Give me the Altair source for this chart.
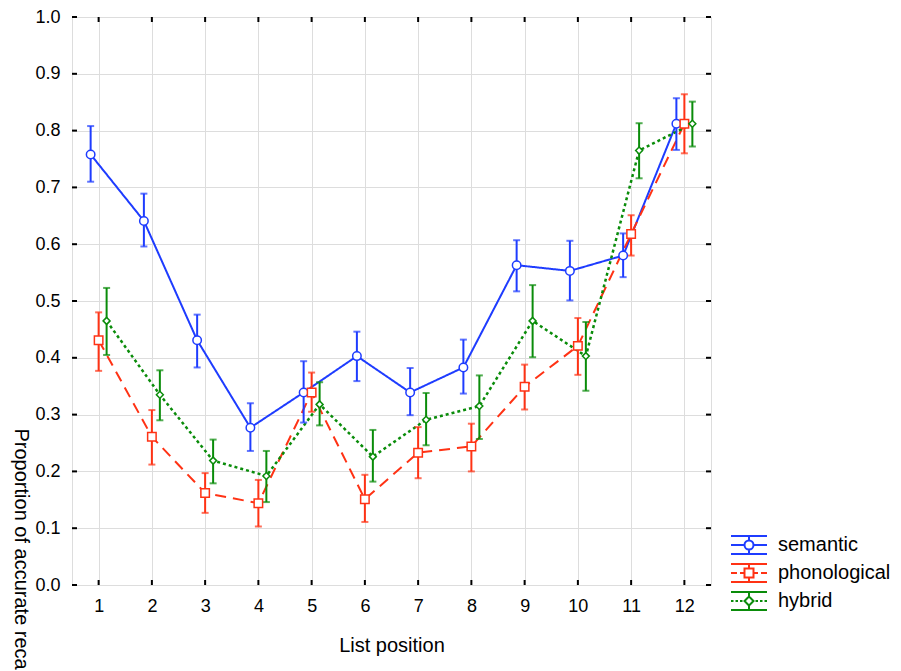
import altair as alt
import pandas as pd

positions = list(range(1, 13))
y_ticks = [0.0, 0.1, 0.2, 0.3, 0.4, 0.5, 0.6, 0.7, 0.8, 0.9, 1.0]
series_names = ["semantic", "phonological", "hybrid"]
series_colors = ["#1e3cff", "#ff3214", "#0a8c0a"]

semantic_mean = [0.758, 0.641, 0.431, 0.277, 0.339, 0.403, 0.339, 0.383, 0.563, 0.553, 0.580, 0.812]
semantic_lo = [0.710, 0.596, 0.383, 0.236, 0.286, 0.359, 0.299, 0.337, 0.517, 0.501, 0.542, 0.766]
semantic_hi = [0.808, 0.689, 0.476, 0.320, 0.394, 0.446, 0.382, 0.432, 0.607, 0.606, 0.619, 0.857]

phon_mean = [0.431, 0.261, 0.162, 0.144, 0.339, 0.151, 0.233, 0.244, 0.349, 0.421, 0.618, 0.812]
phon_lo = [0.377, 0.212, 0.127, 0.103, 0.305, 0.111, 0.188, 0.200, 0.309, 0.370, 0.580, 0.760]
phon_hi = [0.480, 0.308, 0.197, 0.185, 0.374, 0.194, 0.278, 0.284, 0.388, 0.470, 0.651, 0.864]

hyb_mean = [0.465, 0.335, 0.219, 0.192, 0.318, 0.226, 0.291, 0.315, 0.465, 0.403, 0.765, 0.812]
hyb_lo = [0.405, 0.290, 0.179, 0.146, 0.281, 0.182, 0.246, 0.257, 0.401, 0.342, 0.716, 0.772]
hyb_hi = [0.523, 0.378, 0.256, 0.236, 0.357, 0.273, 0.338, 0.369, 0.528, 0.463, 0.813, 0.851]

rows = []
for name, m, lo, hi in zip(series_names,
                           [semantic_mean, phon_mean, hyb_mean],
                           [semantic_lo, phon_lo, hyb_lo],
                           [semantic_hi, phon_hi, hyb_hi]):
    for p, a, b, c in zip(positions, m, lo, hi):
        rows.append({"series": name, "pos": p, "mean": a, "lo": b, "hi": c})
df = pd.DataFrame(rows)

W, H = 639, 568
FONT = "Liberation Sans"

# legend glyphs (error-bar style symbol with marker)
frame = "M-1.8,-0.9H1.8M-1.8,0.9H1.8M0,-0.9V-0.45M0,0.45V0.9"
sym_sem = frame + "M-1.8,0H-0.45M0.45,0H1.8M0.45,0A0.45,0.45 0 1,1 -0.45,0A0.45,0.45 0 1,1 0.45,0Z"
sym_pho = frame + "M-1.8,0H-1.2M-0.9,0H-0.45M0.45,0H0.9M1.2,0H1.8M-0.45,-0.45H0.45V0.45H-0.45Z"
sym_hyb = frame + ("M-1.8,0H-1.55M-1.35,0H-1.1M-0.9,0H-0.65"
                   "M0.65,0H0.9M1.1,0H1.35M1.55,0H1.8M0,-0.45L0.45,0L0,0.45L-0.45,0Z")

color_scale = alt.Scale(domain=series_names, range=series_colors)
line_dashes = [[1, 0], [11, 7], [3, 3]]
line_widths = [2, 2, 2.5]

offset_expr = "datum.pos + (datum.series == 'semantic' ? -0.15 : (datum.series == 'hybrid' ? 0.15 : 0))"

x_enc = alt.X(
    "xpos:Q",
    scale=alt.Scale(domain=[0.5, 12.5], nice=False, zero=False),
    axis=alt.Axis(values=positions, title="List position", grid=True, ticks=False,
                  tickSize=0, domain=False, labelFontSize=18, labelPadding=12,
                  titleFontSize=20, titlePadding=20, titleFontWeight="normal",
                  labelColor="black", titleColor="black", labelFont=FONT, titleFont=FONT),
)
y_enc = alt.Y(
    "mean:Q",
    scale=alt.Scale(domain=[0, 1], nice=False, zero=False),
    axis=alt.Axis(values=y_ticks, format=".1f", title="Proportion of accurate recall",
                  grid=True, ticks=False, tickSize=0, domain=False, labelFontSize=18,
                  labelPadding=12, titleFontSize=20, titleFontWeight="normal",
                  titleAngle=90, titleAlign="left", titleBaseline="alphabetic",
                  titleX=-58, titleY=411, labelColor="black", titleColor="black",
                  labelFont=FONT, titleFont=FONT),
)

base = alt.Chart(df).transform_calculate(xpos=offset_expr)

legend_layer = alt.Chart(df).transform_filter("false").mark_point(
    filled=False, fill="white", strokeWidth=2, opacity=1
).encode(
    color=alt.Color("series:N", scale=color_scale,
                    legend=alt.Legend(title=None, orient="none", legendX=666, legendY=517,
                                      padding=0, labelFontSize=20, labelOffset=18,
                                      rowPadding=2, symbolSize=400, symbolStrokeWidth=2,
                                      symbolFillColor="white", symbolOpacity=1,
                                      labelFont=FONT, labelColor="black")),
    shape=alt.Shape("series:N", scale=alt.Scale(domain=series_names,
                                                range=[sym_sem, sym_pho, sym_hyb])),
)

line_layers = []
for name, col, dash, lw in zip(series_names, series_colors, line_dashes, line_widths):
    line_layers.append(
        base.transform_filter(alt.datum.series == name)
        .mark_line(color=col, strokeDash=dash, strokeWidth=lw)
        .encode(x=x_enc, y=y_enc, order=alt.Order("pos:Q"))
    )

bars = base.mark_rule(strokeWidth=2).encode(
    x="xpos:Q",
    y="lo:Q",
    y2="hi:Q",
    color=alt.Color("series:N", scale=color_scale, legend=None),
)
caps_lo = base.mark_tick(orient="horizontal", size=7, thickness=2).encode(
    x="xpos:Q", y="lo:Q",
    color=alt.Color("series:N", scale=color_scale, legend=None),
)
caps_hi = base.mark_tick(orient="horizontal", size=7, thickness=2).encode(
    x="xpos:Q", y="hi:Q",
    color=alt.Color("series:N", scale=color_scale, legend=None),
)

markers = []
for name, col, shp, sz in zip(series_names, series_colors, ["circle", "square", "diamond"], [72, 72, 48]):
    markers.append(
        base.transform_filter(alt.datum.series == name)
        .mark_point(shape=shp, size=sz, filled=False, fill="white", stroke=col,
                    strokeWidth=1.5, opacity=1)
        .encode(x="xpos:Q", y="mean:Q")
    )

xt = pd.DataFrame({"xpos": positions})
yt = pd.DataFrame({"mean": y_ticks})
tick_style = dict(color="black", strokeWidth=2)
top_ticks = alt.Chart(xt).mark_rule(**tick_style).encode(x="xpos:Q", y=alt.value(0), y2=alt.value(5))
bot_ticks = alt.Chart(xt).mark_rule(**tick_style).encode(x="xpos:Q", y=alt.value(H - 5), y2=alt.value(H))
left_ticks = alt.Chart(yt).mark_rule(**tick_style).encode(y="mean:Q", x=alt.value(0), x2=alt.value(5))
right_ticks = alt.Chart(yt).mark_rule(**tick_style).encode(y="mean:Q", x=alt.value(W - 5), x2=alt.value(W))

chart = alt.layer(
    legend_layer, *line_layers, bars, caps_lo, caps_hi, *markers,
    top_ticks, bot_ticks, left_ticks, right_ticks,
).resolve_scale(
    color="independent", shape="independent"
).resolve_legend(
    color="independent", shape="independent"
).properties(
    width=W, height=H,
    padding={"left": 64, "top": 9, "right": 182, "bottom": 86},
    autosize=alt.AutoSizeParams(type="none"),
    background="white",
).configure_view(
    stroke="black", strokeWidth=2
).configure_axis(
    gridColor="#c0c0c0", gridDash=[4, 2], gridWidth=1,
).configure(font=FONT)

chart.save("out.html", embed_options={"renderer": "svg", "actions": False})
